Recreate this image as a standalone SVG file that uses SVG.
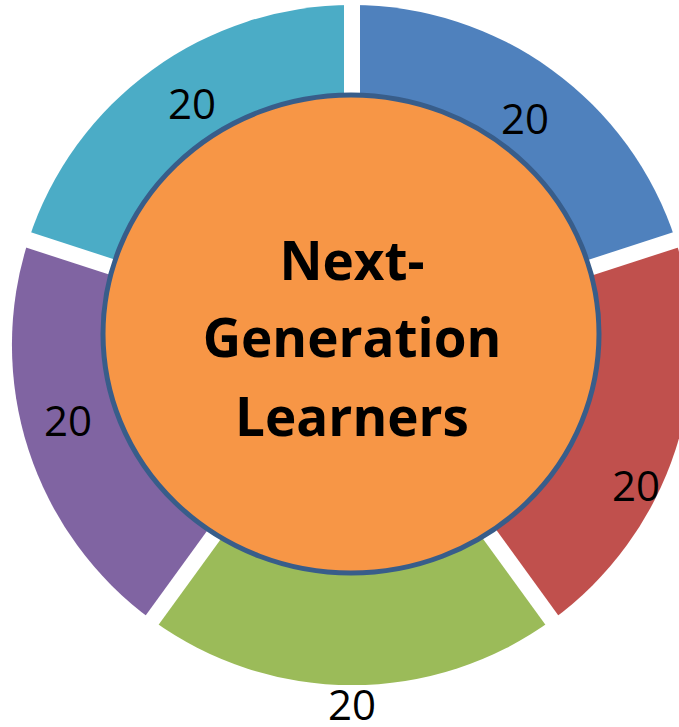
<svg xmlns="http://www.w3.org/2000/svg" width="679" height="727" viewBox="0 0 679 727">
<style>
.lbl{font-family:"Open Sans","Liberation Sans",sans-serif;font-size:42px;fill:#000;text-anchor:middle}
.ctr{font-family:"Open Sans","Liberation Sans",sans-serif;font-size:53px;font-weight:bold;fill:#000;text-anchor:middle}
.gap{stroke:#fff;stroke-width:16;stroke-linecap:butt}
</style>
<rect width="679" height="727" fill="#fff"/>
<g id="seg-blue"><path d="M352,345 L352,5 A340,340 0 0 1 675.4,239.9 Z" fill="#4F81BD"/><text class="lbl" x="525" y="134">20</text></g>
<g id="seg-red"><path d="M352,345 L675.4,239.9 A340,340 0 0 1 551.9,620.1 Z" fill="#C0504D"/><text class="lbl" x="636" y="501">20</text></g>
<g id="seg-green"><path d="M352,345 L551.9,620.1 A340,340 0 0 1 152.1,620.1 Z" fill="#9BBB59"/><text class="lbl" x="352" y="720">20</text></g>
<g id="seg-purple"><path d="M352,345 L152.1,620.1 A340,340 0 0 1 28.6,239.9 Z" fill="#8064A2"/><text class="lbl" x="68" y="436">20</text></g>
<g id="seg-teal"><path d="M352,345 L28.6,239.9 A340,340 0 0 1 352,5 Z" fill="#4BACC6"/><text class="lbl" x="192" y="119">20</text></g>
<g id="gaps">
<line class="gap" x1="352" y1="345" x2="352" y2="0"/>
<line class="gap" x1="352" y1="345" x2="680.2" y2="238.4"/>
<line class="gap" x1="352" y1="345" x2="554.8" y2="624.1"/>
<line class="gap" x1="352" y1="345" x2="149.2" y2="624.1"/>
<line class="gap" x1="352" y1="345" x2="23.8" y2="238.4"/>
</g>
<g id="center">
<ellipse cx="351" cy="334" rx="248" ry="239" fill="#F79646" stroke="#385D8A" stroke-width="5"/>
<text class="ctr" x="352" y="280">Next-</text>
<text class="ctr" x="352" y="357">Generation</text>
<text class="ctr" x="352" y="436">Learners</text>
</g>
</svg>
